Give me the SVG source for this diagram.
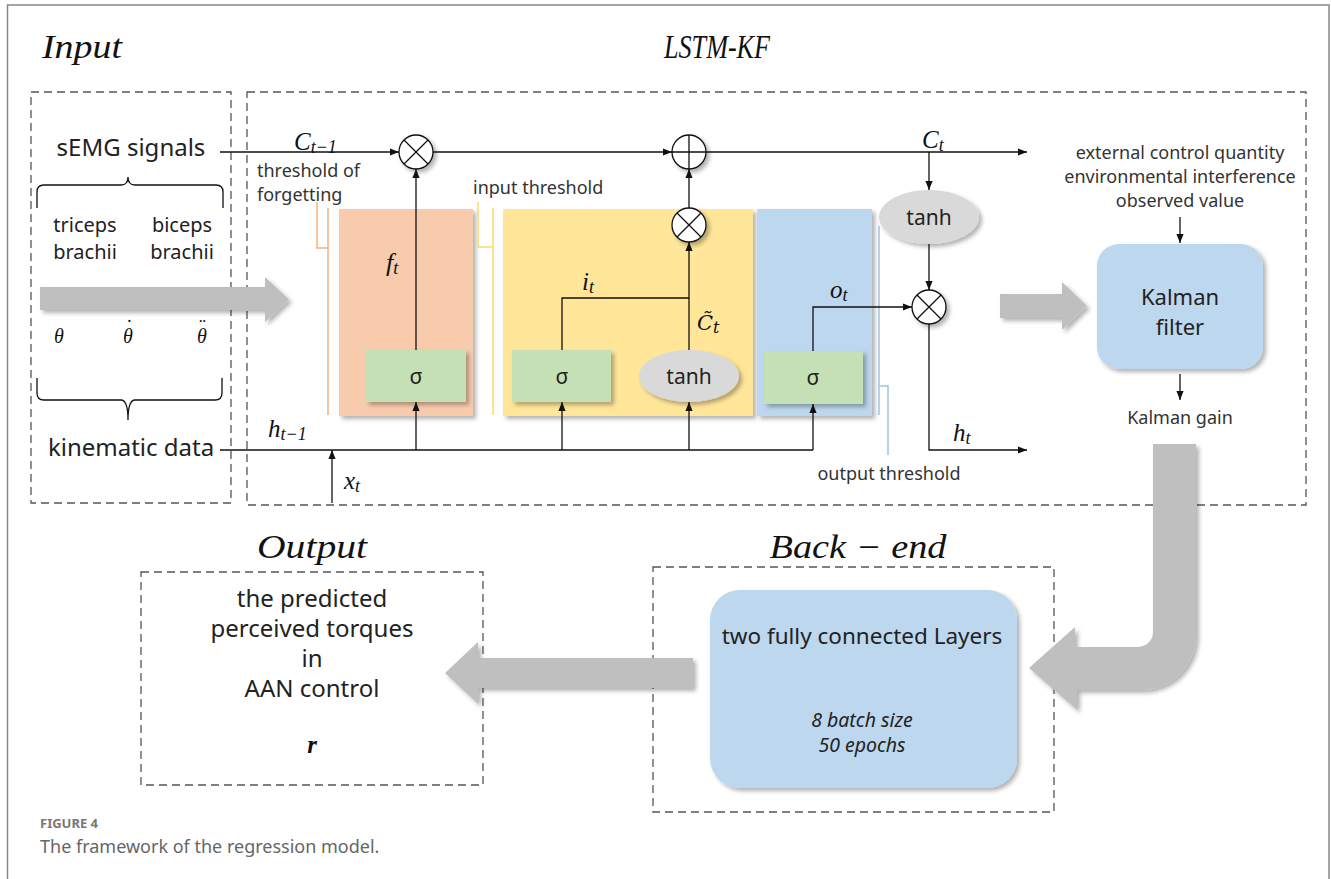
<svg xmlns="http://www.w3.org/2000/svg" width="1331" height="879" viewBox="0 0 1331 879">
<style>
.txt{font-family:"Noto Sans","Open Sans",sans-serif;fill:#222;}
.sm{font-family:"Noto Sans","Open Sans",sans-serif;fill:#333;font-size:18px;}
.math{font-family:"Liberation Serif","DejaVu Serif",serif;font-style:italic;fill:#111;}
.dmath{font-family:"DejaVu Serif",serif;font-style:italic;fill:#111;}
.title{font-family:"Liberation Serif","DejaVu Serif",serif;font-style:italic;fill:#111;font-size:33px;}
.dash{fill:none;stroke:#555;stroke-width:1.3;stroke-dasharray:8,5;}
.ln{fill:none;stroke:#111;stroke-width:1.3;}
.arr{fill:none;stroke:#111;stroke-width:1.3;marker-end:url(#ah);}
.gate{fill:#c5e0b4;}
.tanh{fill:#d9d9d9;}
.op{fill:#fff;stroke:#111;stroke-width:1.3;}
.big{fill:#bfbfbf;}
.blue{fill:#bdd7ee;}
</style>
<defs>
<marker id="ah" viewBox="0 0 10 10" refX="10" refY="5" markerWidth="9" markerHeight="9" markerUnits="userSpaceOnUse" orient="auto"><path d="M0,1 L10,5 L0,9 z" fill="#111"/></marker>
<filter id="sh" x="-10%" y="-10%" width="130%" height="130%"><feDropShadow dx="3" dy="3" stdDeviation="2" flood-color="#000" flood-opacity="0.3"/></filter>
</defs>
<rect width="1331" height="879" fill="#fff"/>
<path d="M7.5,879 V5 H1329 V879" fill="none" stroke="#888" stroke-width="1.5"/>

<!-- titles -->
<text class="title" x="82" y="58" text-anchor="middle" textLength="80" lengthAdjust="spacingAndGlyphs">Input</text>
<text class="title" x="717" y="58" text-anchor="middle" font-size="35" textLength="106" lengthAdjust="spacingAndGlyphs">LSTM-KF</text>
<text class="title" x="312" y="558" text-anchor="middle" textLength="110" lengthAdjust="spacingAndGlyphs">Output</text>
<text class="title" x="858" y="558" text-anchor="middle" textLength="177" lengthAdjust="spacingAndGlyphs">Back − end</text>

<!-- frames -->
<g id="input-frame">
<rect class="dash" x="31" y="92" width="200" height="411"/>
<text class="txt" x="131" y="156" text-anchor="middle" font-size="24">sEMG signals</text>
<path class="ln" d="M37,208 V192 Q37,185 44,185 H121 Q128,185 128,177 Q128,185 135,185 H216 Q223,185 223,192 V208" stroke="#333"/>
<text class="txt" x="85" y="232" text-anchor="middle" font-size="20">triceps</text>
<text class="txt" x="85" y="259" text-anchor="middle" font-size="20">brachii</text>
<text class="txt" x="182" y="232" text-anchor="middle" font-size="20">biceps</text>
<text class="txt" x="182" y="259" text-anchor="middle" font-size="20">brachii</text>
<text class="math" x="54" y="343" font-size="20">θ</text>
<text class="math" x="123" y="343" font-size="20">θ<tspan dx="-8" dy="-9">˙</tspan></text>
<text class="math" x="197" y="343" font-size="20">θ<tspan dx="-9" dy="-9">¨</tspan></text>
<path class="ln" d="M37,378 V393 Q37,400 44,400 H121 Q128,400 128,420 Q128,400 135,400 H215 Q222,400 222,393 V378" stroke="#333"/>
<text class="txt" x="131" y="456" text-anchor="middle" font-size="24">kinematic data</text>
</g>
<g id="lstm-frame"><rect class="dash" x="247" y="92" width="1059" height="413"/></g>
<g id="output-frame">
<rect class="dash" x="141" y="572" width="342" height="213"/>
<text class="txt" x="312" y="607" text-anchor="middle" font-size="24">the predicted</text>
<text class="txt" x="312" y="637" text-anchor="middle" font-size="24">perceived torques</text>
<text class="txt" x="312" y="667" text-anchor="middle" font-size="24">in</text>
<text class="txt" x="312" y="697" text-anchor="middle" font-size="24">AAN control</text>
<text class="math" x="312" y="753" text-anchor="middle" font-size="25" font-weight="bold">r</text>
</g>
<g id="backend-frame"><rect class="dash" x="653" y="567" width="401" height="245"/></g>

<!-- big gray arrows -->
<g id="big-arrows" filter="url(#sh)">
<path class="big" d="M40,287 H265 V277 L289,299.5 L265,322 V310 H40 Z"/>
<path class="big" d="M1000,294 H1062 V282 L1087,306 L1062,330 V318 H1000 Z"/>
<path class="big" d="M1153,444 H1196 V635 A55,55 0 0 1 1141,690 H1077 V710 L1029,668 L1075,627 V647 H1138 A15,15 0 0 0 1153,632 Z"/>
<path class="big" d="M693,658 H478 V642 L445,673 L478,704 V688 H693 Z"/>
</g>

<!-- gate boxes -->
<g id="forget-gate">
<polyline points="317,202 317,248 328,248" fill="none" stroke="#f4b183" stroke-width="1.5"/>
<line x1="328" y1="208" x2="328" y2="415" stroke="#f4b183" stroke-width="1.5"/>
<rect x="339" y="209" width="134" height="207" fill="#f8cbad" filter="url(#sh)"/>
<text class="sm" x="257" y="177">threshold of</text>
<text class="sm" x="257" y="201">forgetting</text>
</g>
<g id="input-gate">
<polyline points="478,202 478,247 493,247" fill="none" stroke="#ffd966" stroke-width="1.5"/>
<line x1="493" y1="208" x2="493" y2="415" stroke="#ffd966" stroke-width="1.5"/>
<rect x="503" y="209" width="250" height="207" fill="#ffe699" filter="url(#sh)"/>
<text class="sm" x="473" y="194">input threshold</text>
</g>
<g id="output-gate">
<rect x="757" y="209" width="115" height="207" fill="#bdd7ee" filter="url(#sh)"/>
<line x1="879" y1="226" x2="879" y2="415" stroke="#9dc3e6" stroke-width="1.5"/>
<polyline points="879,386 888,386 888,455" fill="none" stroke="#9dc3e6" stroke-width="1.5"/>
<text class="sm" x="889" y="480" text-anchor="middle">output threshold</text>
</g>

<g id="sigma-f"><rect class="gate" x="366" y="350" width="100" height="52" filter="url(#sh)"/><text class="txt" x="416" y="384" text-anchor="middle" font-size="21">σ</text></g>
<g id="sigma-i"><rect class="gate" x="512" y="350" width="99" height="52" filter="url(#sh)"/><text class="txt" x="562" y="384" text-anchor="middle" font-size="21">σ</text></g>
<g id="tanh-c"><ellipse class="tanh" cx="689" cy="376" rx="50" ry="26" filter="url(#sh)"/><text class="txt" x="689" y="384" text-anchor="middle" font-size="21">tanh</text></g>
<g id="sigma-o"><rect class="gate" x="764" y="351" width="99" height="53" filter="url(#sh)"/><text class="txt" x="813" y="385" text-anchor="middle" font-size="21">σ</text></g>
<g id="tanh-h"><ellipse class="tanh" cx="929" cy="217" rx="50" ry="27" filter="url(#sh)"/><text class="txt" x="929" y="225" text-anchor="middle" font-size="21">tanh</text></g>

<g id="mul-f"><circle class="op" cx="416" cy="152" r="17" filter="url(#sh)"/><path class="ln" d="M404,140 L428,164 M428,140 L404,164"/></g>
<g id="add-c"><circle class="op" cx="689" cy="152" r="17" filter="url(#sh)"/><path class="ln" d="M672,152 H706 M689,135 V169"/></g>
<g id="mul-i"><circle class="op" cx="689" cy="225" r="17" filter="url(#sh)"/><path class="ln" d="M677,213 L701,237 M701,213 L677,237"/></g>
<g id="mul-o"><circle class="op" cx="929" cy="307" r="17" filter="url(#sh)"/><path class="ln" d="M917,295 L941,319 M941,295 L917,319"/></g>

<g id="kalman">
<rect class="blue" x="1097" y="244" width="166" height="125" rx="22" filter="url(#sh)"/>
<text class="txt" x="1180" y="305" text-anchor="middle" font-size="22">Kalman</text>
<text class="txt" x="1180" y="335" text-anchor="middle" font-size="22">filter</text>
<text class="sm" x="1180" y="159" text-anchor="middle" font-size="19">external control quantity</text>
<text class="sm" x="1180" y="183" text-anchor="middle" font-size="19">environmental interference</text>
<text class="sm" x="1180" y="207" text-anchor="middle" font-size="19">observed value</text>
<text class="sm" x="1180" y="424" text-anchor="middle" font-size="19">Kalman gain</text>
</g>
<g id="backend">
<rect class="blue" x="710" y="590" width="307" height="198" rx="30" filter="url(#sh)"/>
<text class="txt" x="862" y="644" text-anchor="middle" font-size="22.5">two fully connected Layers</text>
<text class="txt" x="862" y="727" text-anchor="middle" font-size="19.5" font-style="italic">8 batch size</text>
<text class="txt" x="862" y="752" text-anchor="middle" font-size="19.5" font-style="italic">50 epochs</text>
</g>

<!-- connectors -->
<g id="connectors">
<path class="arr" d="M220,152 H399"/>
<path class="arr" d="M433,152 H672"/>
<path class="arr" d="M706,152 H1027"/>
<path class="arr" d="M416,350 V169"/>
<path class="arr" d="M416,450 V402"/>
<path class="ln" d="M220,450 H813"/>
<path class="arr" d="M813,450 V404"/>
<path class="arr" d="M562,450 V402"/>
<path class="arr" d="M689,450 V402"/>
<path class="arr" d="M332,503 V450"/>
<path class="arr" d="M562,350 V298 H689 V242"/>
<path class="ln" d="M689,350 V298"/>
<path class="arr" d="M689,208 V169"/>
<path class="arr" d="M813,351 V307 H912"/>
<path class="arr" d="M929,152 V190"/>
<path class="arr" d="M929,244 V290"/>
<path class="arr" d="M929,324 V450 H1027"/>
<path class="arr" d="M1180,217 V243"/>
<path class="arr" d="M1180,374 V400"/>
</g>

<!-- math labels -->
<g id="labels">
<text class="math" x="294" y="150" font-size="25">C<tspan font-size="18" dy="3">t−1</tspan></text>
<text class="math" x="268" y="437" font-size="25">h<tspan font-size="18" dy="3">t−1</tspan></text>
<text class="math" x="344" y="489" font-size="25">x<tspan font-size="18" dy="3">t</tspan></text>
<text class="math" x="386" y="271" font-size="26">f<tspan font-size="18" dy="3">t</tspan></text>
<text class="math" x="582" y="290" font-size="25">i<tspan font-size="18" dy="3">t</tspan></text>
<text class="dmath" x="697" y="330" font-size="21">C̃<tspan font-size="16" dy="3">t</tspan></text>
<text class="math" x="830" y="298" font-size="25">o<tspan font-size="18" dy="3">t</tspan></text>
<text class="math" x="922" y="148" font-size="25">C<tspan font-size="18" dy="3">t</tspan></text>
<text class="math" x="953" y="441" font-size="25">h<tspan font-size="18" dy="3">t</tspan></text>
</g>

<!-- caption -->
<text x="40" y="828" font-family="Noto Sans,sans-serif" font-size="13" font-weight="bold" fill="#777">FIGURE 4</text>
<text x="40" y="853" font-family="Noto Sans,sans-serif" font-size="18" fill="#666">The framework of the regression model.</text>
</svg>
